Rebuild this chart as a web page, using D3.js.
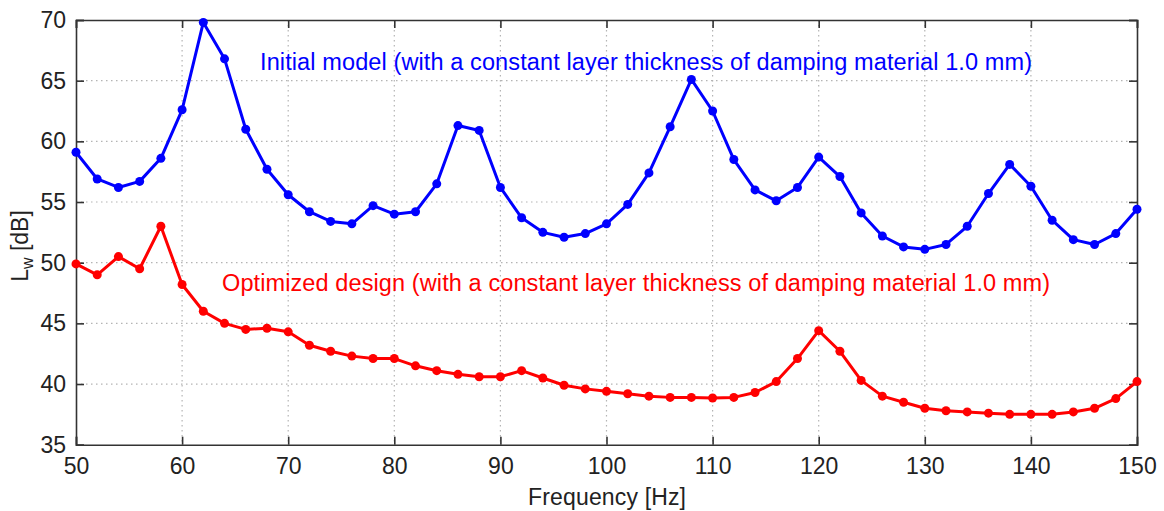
<!DOCTYPE html>
<html><head><meta charset="utf-8">
<script src="https://cdn.jsdelivr.net/npm/d3@7"></script>
<style>body{margin:0;background:#fff;} text{font-family:Arial,"Liberation Sans",sans-serif;}</style>
</head><body>
<svg id="c" width="1164" height="511"></svg>
<script>
const freq = d3.range(50, 151, 2);
const initialModel = [59.1,56.9,56.2,56.7,58.6,62.6,69.8,66.8,61.0,57.7,55.6,54.2,53.4,53.2,54.7,54.0,
  54.2,56.5,61.3,60.9,56.2,53.7,52.5,52.1,52.4,53.2,54.8,57.4,61.2,65.1,62.5,58.5,56.0,55.1,56.2,58.7,
  57.1,54.1,52.2,51.3,51.1,51.5,53.0,55.7,58.1,56.3,53.5,51.9,51.5,52.4,54.4];
const optimizedDesign = [49.9,49.0,50.5,49.5,53.0,48.2,46.0,45.0,44.5,44.6,44.3,43.2,42.7,42.3,42.1,42.1,
  41.5,41.1,40.8,40.6,40.6,41.1,40.5,39.9,39.6,39.4,39.2,39.0,38.9,38.9,38.85,38.9,39.3,40.2,42.1,44.4,
  42.7,40.3,39.0,38.5,38.0,37.8,37.7,37.6,37.5,37.5,37.5,37.7,38.0,38.8,40.2];
const xTicks = [50,60,70,80,90,100,110,120,130,140,150];
const yTicks = [35,40,45,50,55,60,65,70];
const labelInitial = "Initial model (with a constant layer thickness of damping material 1.0 mm)";
const labelOptimized = "Optimized design (with a constant layer thickness of damping material 1.0 mm)";

const svg = d3.select("#c");
const L = 76, R = 1137, T = 20, B = 444.7;
const x = d3.scaleLinear().domain([50,150]).range([L,R]);
const y = d3.scaleLinear().domain([35,70]).range([B,T]);

const g = svg.append("g");
g.selectAll(".vg").data(xTicks.slice(1,-1)).enter().append("line")
  .attr("x1",d=>x(d)).attr("x2",d=>x(d)).attr("y1",T).attr("y2",B)
  .attr("stroke","#b4b4b4").attr("stroke-width",1.2).attr("stroke-dasharray","1.5,3.5");
g.selectAll(".hg").data(yTicks.slice(1,-1)).enter().append("line")
  .attr("x1",L).attr("x2",R).attr("y1",d=>y(d)).attr("y2",d=>y(d))
  .attr("stroke","#b4b4b4").attr("stroke-width",1.2).attr("stroke-dasharray","1.5,3.5");

const axB = d3.axisBottom(x).tickValues(xTicks).tickSize(-8).tickPadding(13).tickFormat(d3.format("d"));
const axL = d3.axisLeft(y).tickValues(yTicks).tickSize(-8).tickPadding(10).tickFormat(d3.format("d"));
const axT = d3.axisTop(x).tickValues(xTicks).tickSize(-8).tickFormat("");
const axR = d3.axisRight(y).tickValues(yTicks).tickSize(-8).tickFormat("");
function style(sel){
  sel.select(".domain").attr("stroke","#333").attr("stroke-width",1.6);
  sel.selectAll(".tick line").attr("stroke","#333").attr("stroke-width",1.6);
  sel.selectAll(".tick text").attr("fill","#222").style("font-size","23px");
}
svg.append("g").attr("transform",`translate(0,${B})`).call(axB).call(style);
svg.append("g").attr("transform",`translate(${L},0)`).call(axL).call(style);
svg.append("g").attr("transform",`translate(0,${T})`).call(axT).call(style);
svg.append("g").attr("transform",`translate(${R},0)`).call(axR).call(style);

function series(data,color){
  const pts = freq.map((f,i)=>[f,data[i]]);
  svg.append("path").datum(pts).attr("fill","none").attr("stroke",color).attr("stroke-width",3)
    .attr("stroke-linejoin","round")
    .attr("d",d3.line().x(d=>x(d[0])).y(d=>y(d[1])));
  svg.append("g").selectAll("circle").data(pts).enter().append("circle")
    .attr("cx",d=>x(d[0])).attr("cy",d=>y(d[1])).attr("r",4.5).attr("fill",color);
}
series(initialModel,"#0000ff");
series(optimizedDesign,"#ff0000");

svg.append("text").attr("x",260).attr("y",70).attr("fill","#0000ff").attr("textLength",772)
  .style("font-size","23.5px").text(labelInitial);
svg.append("text").attr("x",222).attr("y",291).attr("fill","#ff0000").attr("textLength",828)
  .style("font-size","23.5px").text(labelOptimized);

svg.append("text").attr("x",607).attr("y",505).attr("text-anchor","middle").attr("fill","#222")
  .attr("textLength",158).style("font-size","23px").text("Frequency [Hz]");
const yl = svg.append("text").attr("transform","translate(28,246) rotate(-90)").attr("text-anchor","middle")
  .attr("fill","#222").style("font-size","23px");
yl.append("tspan").text("L");
yl.append("tspan").attr("dy",5).style("font-size","16px").text("w");
yl.append("tspan").attr("dy",-5).text(" [dB]");
</script>
</body></html>
